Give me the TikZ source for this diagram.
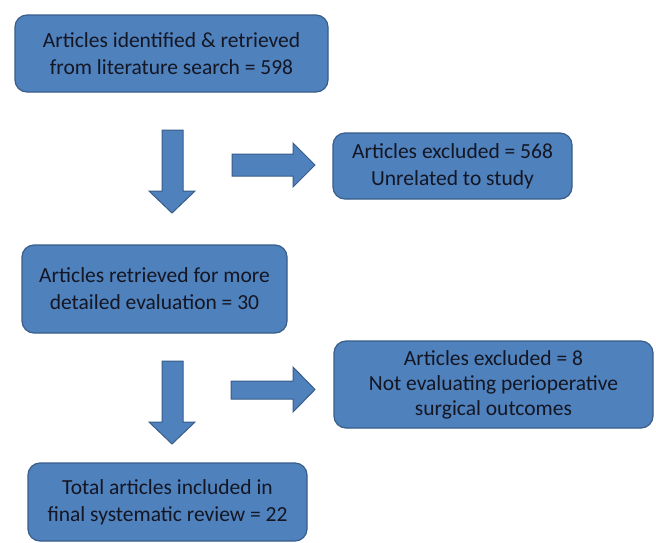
\documentclass[tikz,border=0pt]{standalone}
\usepackage{fontspec}
\setmainfont{Carlito}
\definecolor{boxfill}{RGB}{79,129,189}
\definecolor{boxline}{RGB}{56,93,138}
\definecolor{txt}{RGB}{20,22,35}
\begin{document}
\begin{tikzpicture}[x=1pt,y=-1pt,
  flowbox/.style={draw=boxline,line width=1.2pt,fill=boxfill,rounded corners=12pt,
    rectangle,text=txt,align=center,inner sep=0pt,
    font=\fontsize{21.5}{27}\selectfont},
  blockarrow/.style={draw=boxline,line width=1pt,fill=boxfill}]
\useasboundingbox[fill=white] (0,0) rectangle (656,542);
% boxes
\node[flowbox,minimum width=313pt,minimum height=77pt] (b1) at (171.5,53.5) {Articles identified \& retrieved\\from literature search = 598};
\node[flowbox,minimum width=239pt,minimum height=66pt] (b2) at (452.5,166) {Articles excluded = 568\\Unrelated to study};
\node[flowbox,minimum width=265pt,minimum height=88pt] (b3) at (154.5,289) {Articles retrieved for more\\detailed evaluation = 30};
\node[flowbox,minimum width=319pt,minimum height=87pt,font=\fontsize{21.5}{25}\selectfont] (b4) at (493.5,384.5) {Articles excluded = 8\\Not evaluating perioperative\\surgical outcomes};
\node[flowbox,minimum width=279pt,minimum height=78pt] (b5) at (167.5,502) {Total articles included in\\final systematic review = 22};
% block arrows
\draw[blockarrow] (162,130) -- (183,130) -- (183,191) -- (195,191) -- (172,213) -- (149,191) -- (162,191) -- cycle;
\draw[blockarrow] (232,154) -- (293,154) -- (293,143) -- (315,165) -- (293,187) -- (293,176) -- (232,176) -- cycle;
\draw[blockarrow] (162,361) -- (183,361) -- (183,422) -- (195,422) -- (172,444) -- (149,422) -- (162,422) -- cycle;
\draw[blockarrow] (231,381) -- (293,381) -- (293,367) -- (315,389.5) -- (293,412) -- (293,399) -- (231,399) -- cycle;
\end{tikzpicture}
\end{document}
